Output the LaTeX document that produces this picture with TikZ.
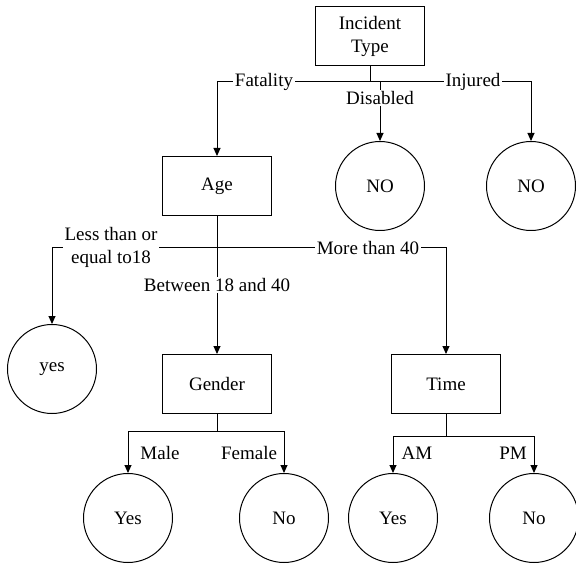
\documentclass[tikz,border=0pt]{standalone}
\usepackage{fontspec}
\setmainfont{Liberation Serif}
\usetikzlibrary{arrows.meta}

\begin{document}
\begin{tikzpicture}[x=1pt,y=-1pt,line width=1pt,
  >={Triangle[length=8pt,width=7pt]},
  every node/.style={font=\fontsize{19}{23}\selectfont},
  testbox/.style={draw,rectangle,minimum width=109pt,minimum height=59pt,align=center,inner sep=0pt},
  leaf/.style={draw,circle,minimum size=89pt,inner sep=0pt},
  lbl/.style={fill=white,inner sep=1.5pt,align=center},
  side/.style={inner sep=0pt}]
\useasboundingbox[fill=white] (0,0) rectangle (576,564);
% Drawing tests and leaves
\node[testbox] (inc) at (370,36) {Incident\\Type};
\node[testbox] (age) at (217,186) {Age};
\node[leaf] (dis) at (380,186) {NO};
\node[leaf] (inj) at (531,186) {NO};
\node[leaf] (young) at (52,369) {yes};
\node[testbox] (gender) at (217,384) {Gender};
\node[testbox] (time) at (446,384) {Time};
\node[leaf] (male) at (128,518) {Yes};
\node[leaf] (female) at (284,518) {No};
\node[leaf] (am) at (393,518) {Yes};
\node[leaf] (pm) at (534,518) {No};
% Line 1: incident type
\coordinate (j1) at (370,82);
\draw (inc.south) -- (j1);
\draw[->] (j1) -| (age.north);
\draw[->] (dis.north |- j1) -- (dis.north);
\draw[->] (j1) -| (inj.north);
\node[lbl] (fat) at (264,82) {Fatality};
\node[lbl] (disl) at (380,98) {Disabled};
\node[lbl] (injl) at (473,82) {Injured};
% Line 2: age
\coordinate (j2) at (217,248);
\draw (age.south) -- (j2);
\draw[->] (j2) -| (young.north);
\draw[->] (j2) -- (gender.north);
\draw[->] (j2) -| (time.north);
\node[lbl] (le18) at (111,247) {Less than or\\equal to18};
\node[lbl] (mid) at (217,285) {Between 18 and 40};
\node[lbl] (gt40) at (368,248) {More than 40};
% Line 3: gender
\coordinate (j3) at (217,431);
\draw (gender.south) -- (j3);
\draw[->] (j3) -| (male.north);
\draw[->] (j3) -| (female.north);
\node[side] (malel) at (160,453) {Male};
\node[side] (femalel) at (249,453) {Female};
% Line 4: time
\coordinate (j4) at (446,436);
\draw (time.south) -- (j4);
\draw[->] (j4) -| (am.north);
\draw[->] (j4) -| (pm.north);
\node[side] (aml) at (417,453) {AM};
\node[side] (pml) at (513,453) {PM};
\end{tikzpicture}
\end{document}
